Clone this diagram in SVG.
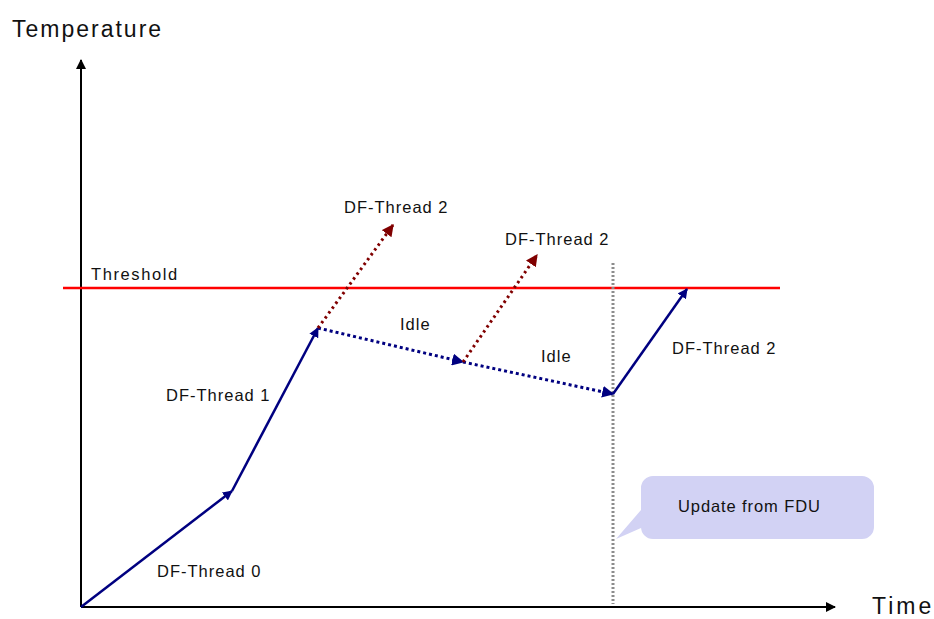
<svg xmlns="http://www.w3.org/2000/svg" width="934" height="619" viewBox="0 0 934 619">
<style>
text{font-family:"Liberation Sans",Arial,sans-serif;fill:#111}
.lbl{font-size:16.5px;letter-spacing:1px}
.ax{font-size:23px;letter-spacing:2px}
.solid{fill:none;stroke:#000080;stroke-width:2.5}
.idle{fill:none;stroke:#000080;stroke-width:3;stroke-dasharray:3 3}
.hot{fill:none;stroke:#800000;stroke-width:3;stroke-dasharray:2.5 3.5}
</style>
<defs>
<marker id="ab" viewBox="0 0 10 10" refX="9" refY="5" markerWidth="4" markerHeight="4" orient="auto" markerUnits="strokeWidth"><path d="M0,0L10,5L0,10z" fill="#000080"/></marker>
<marker id="ar" viewBox="0 0 10 10" refX="9" refY="5" markerWidth="4" markerHeight="4" orient="auto" markerUnits="strokeWidth"><path d="M0,0L10,5L0,10z" fill="#800000"/></marker>
<marker id="ak" viewBox="0 0 10 10" refX="9" refY="5" markerWidth="5" markerHeight="5" orient="auto" markerUnits="strokeWidth"><path d="M0,0L10,5L0,10z" fill="#000"/></marker>
</defs>
<rect width="934" height="619" fill="#fff"/>
<g id="axes">
<line x1="81" y1="607" x2="81" y2="60" stroke="#000" stroke-width="2" marker-end="url(#ak)"/>
<line x1="81" y1="607" x2="835" y2="607" stroke="#000" stroke-width="2" marker-end="url(#ak)"/>
<text class="ax" x="12" y="37">Temperature</text>
<text class="ax" x="872" y="614" style="letter-spacing:3px">Time</text>
</g>
<g id="threshold">
<line x1="63" y1="288" x2="780" y2="288" stroke="#ff0000" stroke-width="2.5"/>
<text class="lbl" x="91" y="280" style="letter-spacing:1.6px">Threshold</text>
</g>
<g id="fdu-line">
<line x1="613" y1="263" x2="613" y2="604" stroke="#8c8c8c" stroke-width="3" stroke-dasharray="2 2"/>
</g>
<g id="connectors">
<line class="solid" x1="81" y1="607" x2="232" y2="491" marker-end="url(#ab)"/>
<line class="solid" x1="232" y1="491" x2="318" y2="328" marker-end="url(#ab)"/>
<line class="idle" x1="318" y1="328" x2="463" y2="362" marker-end="url(#ab)"/>
<line class="idle" x1="463" y1="362" x2="613" y2="394" marker-end="url(#ab)"/>
<line class="solid" x1="613" y1="394" x2="687" y2="289" marker-end="url(#ab)"/>
<line class="hot" x1="318" y1="328" x2="393" y2="225" marker-end="url(#ar)"/>
<line class="hot" x1="463" y1="362" x2="537" y2="255" marker-end="url(#ar)"/>
</g>
<g id="labels">
<text class="lbl" x="157" y="577">DF-Thread 0</text>
<text class="lbl" x="166" y="401">DF-Thread 1</text>
<text class="lbl" x="344" y="213">DF-Thread 2</text>
<text class="lbl" x="505" y="245">DF-Thread 2</text>
<text class="lbl" x="672" y="354">DF-Thread 2</text>
<text class="lbl" x="400" y="330">Idle</text>
<text class="lbl" x="541" y="362">Idle</text>
</g>
<g id="callout">
<path d="M653,476H862A12,12 0 0 1 874,488V527A12,12 0 0 1 862,539H653A12,12 0 0 1 641,527V528L616,539L641,510V488A12,12 0 0 1 653,476Z" fill="#d2d2f4"/>
<text class="lbl" x="678" y="512" style="letter-spacing:0.9px">Update from FDU</text>
</g>
</svg>
